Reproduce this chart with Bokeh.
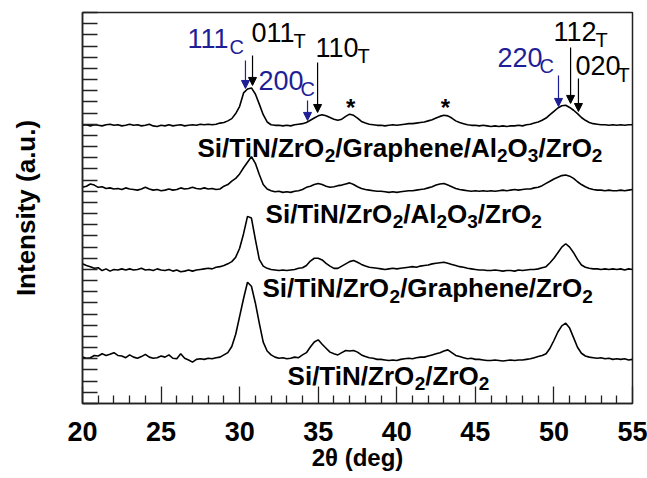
from bokeh.plotting import figure
from bokeh.models import FixedTicker, Label, Arrow, NormalHead, Range1d
from bokeh.core.properties import value
from bokeh.embed import file_html
from bokeh.resources import INLINE
import numpy as np

# ---------------- data ----------------
two_theta = np.round(np.arange(20.0, 55.001, 0.25), 2)

zro2_zro2 = [
    4.15, 4.05, 4.10, 4.30, 4.25, 4.45, 4.30, 4.40, 4.55, 4.30, 4.25, 4.10, 4.35, 4.15, 4.05, 4.20, 4.40, 4.15, 4.05, 4.10,
    4.25, 4.15, 4.35, 4.05, 4.00, 4.45, 4.05, 3.90, 3.70, 3.95, 4.00, 3.95, 4.05, 4.00, 4.10, 4.15, 4.35, 4.55, 5.10, 6.20,
    7.80, 9.40, 10.85, 10.50, 9.00, 7.20, 5.50, 4.70, 4.35, 4.15, 4.05, 4.10, 4.00, 4.05, 4.15, 4.10, 4.35, 4.55, 5.05, 5.50,
    5.70, 5.30, 4.95, 4.60, 4.45, 4.35, 4.55, 4.75, 4.70, 4.75, 4.60, 4.35, 4.20, 4.10, 4.05, 3.95, 3.95, 3.90, 3.85, 3.90,
    3.85, 3.95, 4.00, 4.05, 4.00, 4.10, 4.15, 4.15, 4.25, 4.35, 4.45, 4.55, 4.70, 4.80, 4.55, 4.30, 4.20, 4.10, 4.00, 4.05,
    3.95, 3.95, 3.90, 3.85, 3.85, 3.90, 3.85, 3.80, 3.85, 3.90, 3.85, 3.90, 3.90, 3.95, 4.00, 4.10, 4.20, 4.30, 4.45, 4.95,
    5.64, 6.40, 6.95, 7.19, 6.75, 5.90, 5.04, 4.50, 4.25, 4.15, 4.10, 4.05, 4.10, 4.00, 4.05, 3.95, 4.00, 3.95, 4.00, 3.90,
    3.95,
]

graphene_zro2 = [
    12.50, 12.35, 12.25, 12.10, 12.15, 11.90, 12.05, 11.85, 12.00, 11.95, 12.05, 11.95, 12.05, 11.95, 12.00, 12.10, 11.95, 12.00, 11.90, 12.05,
    11.95, 11.90, 12.00, 11.85, 11.95, 11.80, 11.85, 11.95, 11.85, 11.95, 12.00, 12.05, 12.10, 12.05, 12.20, 12.25, 12.35, 12.50, 12.70, 13.10,
    13.90, 15.20, 16.75, 16.60, 14.70, 12.90, 12.30, 12.10, 12.00, 11.95, 11.90, 11.95, 11.90, 11.95, 12.00, 12.10, 12.15, 12.35, 12.75, 13.00,
    13.00, 12.85, 12.55, 12.30, 12.10, 12.10, 12.30, 12.50, 12.70, 12.80, 12.65, 12.45, 12.30, 12.20, 12.15, 12.10, 12.05, 12.00, 12.05, 12.10,
    12.05, 12.10, 12.15, 12.20, 12.25, 12.20, 12.30, 12.35, 12.40, 12.50, 12.55, 12.60, 12.65, 12.55, 12.45, 12.35, 12.25, 12.20, 12.10, 12.05,
    12.00, 11.95, 11.95, 11.90, 11.90, 11.95, 11.90, 11.85, 11.90, 11.90, 11.85, 11.95, 11.90, 11.95, 12.00, 12.00, 12.05, 12.15, 12.25, 12.60,
    13.00, 13.50, 14.00, 14.30, 14.00, 13.50, 12.90, 12.40, 12.20, 12.10, 12.05, 12.05, 12.00, 12.05, 12.00, 12.05, 12.00, 12.05, 11.95, 12.05,
    12.00,
]

al2o3_zro2 = [
    19.35, 19.45, 19.65, 19.55, 19.35, 19.40, 19.25, 19.30, 19.20, 19.25, 19.15, 19.30, 19.20, 19.15, 19.10, 19.20, 19.35, 19.20, 19.10, 19.15,
    19.05, 19.10, 19.20, 19.10, 19.15, 19.30, 19.20, 19.25, 19.35, 19.25, 19.20, 19.30, 19.20, 19.25, 19.15, 19.20, 19.45, 19.60, 19.90, 20.15,
    20.55, 21.10, 21.60, 22.10, 21.50, 20.50, 19.60, 19.20, 19.05, 18.95, 19.00, 18.90, 18.95, 18.90, 19.00, 19.05, 19.15, 19.35, 19.45, 19.60,
    19.70, 19.60, 19.45, 19.35, 19.40, 19.50, 19.55, 19.65, 19.75, 19.60, 19.40, 19.25, 19.15, 19.10, 19.05, 19.00, 19.00, 18.95, 18.90, 18.95,
    18.90, 18.95, 19.00, 19.05, 19.05, 19.10, 19.15, 19.20, 19.30, 19.40, 19.55, 19.65, 19.70, 19.55, 19.40, 19.25, 19.15, 19.10, 19.05, 19.00,
    19.05, 19.00, 19.05, 19.00, 19.05, 19.00, 19.05, 19.10, 19.05, 19.10, 19.15, 19.10, 19.15, 19.20, 19.20, 19.30, 19.35, 19.50, 19.70, 19.90,
    20.10, 20.25, 20.40, 20.45, 20.35, 20.15, 19.85, 19.60, 19.40, 19.25, 19.15, 19.10, 19.10, 19.05, 19.10, 19.05, 19.05, 19.10, 19.05, 19.10,
    19.15,
]

graphene_al2o3_zro2 = [
    24.90, 24.95, 24.85, 24.95, 24.90, 24.85, 24.95, 25.00, 24.90, 24.95, 24.85, 24.90, 25.00, 24.90, 24.95, 24.85, 24.90, 25.00, 24.85, 24.80,
    24.90, 24.85, 24.95, 24.85, 24.90, 24.95, 24.85, 24.90, 24.95, 24.90, 25.00, 24.95, 25.00, 24.95, 25.00, 25.10, 25.15, 25.30, 25.50, 25.95,
    26.60, 27.80, 28.15, 28.25, 27.70, 26.80, 25.85, 25.20, 24.95, 24.90, 24.90, 24.85, 24.90, 24.85, 24.95, 25.00, 25.05, 25.15, 25.35, 25.55,
    25.75, 25.85, 25.75, 25.60, 25.45, 25.35, 25.45, 25.70, 25.90, 25.80, 25.55, 25.25, 25.10, 25.00, 24.95, 24.90, 24.90, 24.85, 24.90, 24.95,
    24.90, 24.95, 25.00, 25.05, 25.05, 25.10, 25.15, 25.20, 25.30, 25.40, 25.55, 25.70, 25.80, 25.75, 25.55, 25.30, 25.15, 25.05, 24.95, 24.90,
    24.90, 24.85, 24.90, 24.85, 24.80, 24.85, 24.80, 24.85, 24.80, 24.85, 24.85, 24.90, 24.85, 24.95, 25.00, 25.10, 25.20, 25.35, 25.55, 25.85,
    26.15, 26.45, 26.65, 26.70, 26.50, 26.25, 25.95, 25.60, 25.35, 25.15, 25.05, 25.00, 24.95, 24.95, 24.90, 24.95, 24.90, 24.95, 24.90, 24.95,
    24.95,
]

x_major_ticks = [20, 25, 30, 35, 40, 45, 50, 55]
x_minor_ticks = [t for t in range(20, 56) if t % 5 != 0]
y_ticks = list(range(0, 36))

# sample labels: (parts, x, y)
sample_labels = [
    ([("Si/TiN/ZrO", 0), ("2", 1), ("/Graphene/Al", 0), ("2", 1), ("O", 0), ("3", 1), ("/ZrO", 0), ("2", 1)], 27.32, 22.02),
    ([("Si/TiN/ZrO", 0), ("2", 1), ("/Al", 0), ("2", 1), ("O", 0), ("3", 1), ("/ZrO", 0), ("2", 1)], 31.65, 16.11),
    ([("Si/TiN/ZrO", 0), ("2", 1), ("/Graphene/ZrO", 0), ("2", 1)], 31.45, 9.40),
    ([("Si/TiN/ZrO", 0), ("2", 1), ("/ZrO", 0), ("2", 1)], 33.05, 1.61),
]

BLUE = "#1e1e96"
# peak labels: (hkl, phase, colour, x, y)
peak_labels = [
    ("111", "C", BLUE, 26.68, 31.78),
    ("011", "T", "black", 30.75, 32.32),
    ("200", "C", BLUE, 31.20, 28.02),
    ("110", "T", "black", 34.83, 30.98),
    ("220", "C", BLUE, 46.41, 30.08),
    ("112", "T", "black", 49.97, 32.41),
    ("020", "T", "black", 51.37, 29.36),
]
# arrows: (x, y_start, y_end, colour)
peak_arrows = [
    (30.37, 30.7, 28.2, BLUE),
    (30.82, 31.15, 28.47, "black"),
    (34.32, 27.13, 25.34, BLUE),
    (34.96, 30.53, 26.05, "black"),
    (50.29, 29.36, 26.59, BLUE),
    (51.06, 31.87, 26.86, "black"),
    (51.56, 29.10, 26.14, "black"),
]
star_x = [37.06, 43.1]
star_y = [26.5, 26.5]

# ---------------- figure ----------------
FONT = "Liberation Sans"
p = figure(width=647, height=478, output_backend="svg", toolbar_location=None,
           x_range=Range1d(20, 55), y_range=Range1d(0, 35),
           min_border_left=82, min_border_right=15, min_border_top=12, min_border_bottom=75)
p.xgrid.visible = False
p.ygrid.visible = False
p.outline_line_color = "#222222"
p.outline_line_width = 1.5

for curve in (zro2_zro2, graphene_zro2, al2o3_zro2, graphene_al2o3_zro2):
    assert len(curve) == len(two_theta), len(curve)
    p.line(two_theta, curve, line_color="black", line_width=1.6)

xa = p.xaxis[0]
xa.ticker = FixedTicker(ticks=x_major_ticks, minor_ticks=x_minor_ticks)
xa.major_tick_in = 17
xa.major_tick_out = 0
xa.minor_tick_in = 8
xa.minor_tick_out = 0
xa.axis_line_color = "#222222"
xa.axis_line_width = 1.5
xa.major_tick_line_color = "#222222"
xa.minor_tick_line_color = "#222222"
xa.major_tick_line_width = 1.3
xa.minor_tick_line_width = 1.3
xa.major_label_text_font = FONT
xa.major_label_text_font_style = "bold"
xa.major_label_text_font_size = "27px"
xa.major_label_text_color = "black"
xa.major_label_standoff = 18
xa.axis_label = "2θ (deg)"
xa.axis_label_text_font = FONT
xa.axis_label_text_font_style = "bold"
xa.axis_label_text_font_size = "24px"
xa.axis_label_text_color = "black"
xa.axis_label_standoff = 0

ya = p.yaxis[0]
ya.ticker = FixedTicker(ticks=y_ticks)
ya.major_tick_in = 15
ya.major_tick_out = 0
ya.minor_tick_in = 0
ya.minor_tick_out = 0
ya.axis_line_color = "#222222"
ya.axis_line_width = 1.5
ya.major_tick_line_color = "#222222"
ya.major_tick_line_width = 1.3
ya.major_label_text_font_size = "1px"
ya.major_label_text_color = None
ya.axis_label = "Intensity (a.u.)"
ya.axis_label_text_font = FONT
ya.axis_label_text_font_style = "bold"
ya.axis_label_text_font_size = "26px"
ya.axis_label_text_color = "black"
ya.axis_label_standoff = 42

BOLD_W = {"S": .667, "i": .278, "/": .278, "T": .611, "N": .722, "Z": .611, "r": .389, "O": .778,
          "G": .778, "a": .556, "p": .611, "h": .611, "e": .556, "n": .611, "A": .722, "l": .278, "C": .722}


def add_rich(parts, x, y, color, style, size, sub_size, sub_drop, sub_shift=0):
    off = 0.0
    for txt, is_sub in parts:
        fs = sub_size if is_sub else size
        lift = round(0.38 * fs) - (sub_drop if is_sub else 0)
        p.add_layout(Label(x=x, y=y, x_offset=off + (sub_shift if is_sub else 0), y_offset=lift,
                           text=txt, text_font=FONT, text_font_style=style,
                           text_font_size=f"{fs}px", text_color=color,
                           text_baseline="alphabetic", text_align="left"))
        off += sum(BOLD_W.get(c, 0.556) for c in txt) * fs


for parts, x, y in sample_labels:
    add_rich(parts, x, y, "black", "bold", 26, 19, 5)

for hkl, phase, col, x, y in peak_labels:
    add_rich([(hkl, 0), (phase, 1)], x, y, col, "normal", 27, 20, 7, sub_shift=-3)

for x, y0, y1, col in peak_arrows:
    p.add_layout(Arrow(x_start=x, y_start=y0, x_end=x, y_end=y1, line_color=col, line_width=1.2,
                       end=NormalHead(size=8, fill_color=col, line_color=col, line_width=1)))

p.text(x=star_x, y=star_y, text=["*", "*"], text_font=value(FONT), text_font_style="bold",
       text_font_size="24px", text_color="black", text_align="center", text_baseline="alphabetic")

open("out.html", "w").write(file_html(p, INLINE))
